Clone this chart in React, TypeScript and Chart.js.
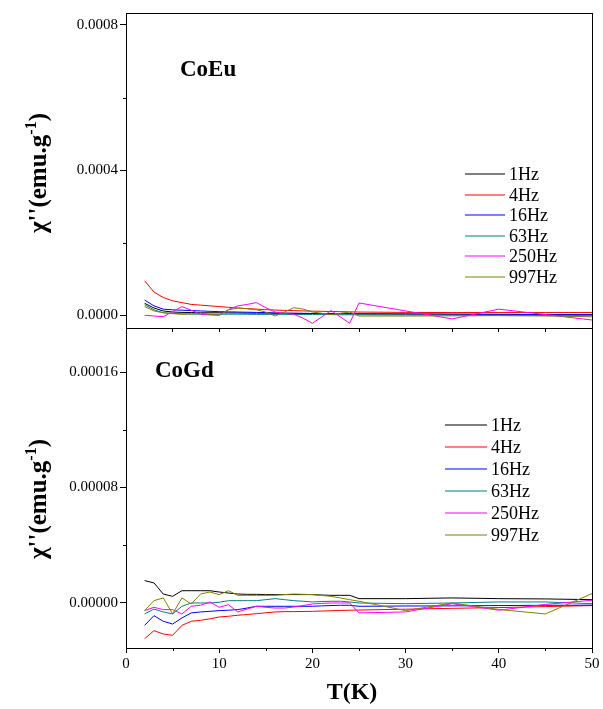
import React, { useEffect, useRef } from 'react';
import { Chart, registerables } from 'chart.js';

Chart.register(...registerables);

// Temperatures (K)
const T = [2, 3, 4, 5, 6, 7, 8, 9, 10, 11, 12, 13, 14, 15, 16, 17, 18, 19, 20, 21, 22, 23, 24, 25, 30, 35, 40, 45, 50];

const SERIES_LABELS = ['1Hz', '4Hz', '16Hz', '63Hz', '250Hz', '997Hz'];
const SERIES_COLORS = ['#000000', '#ff0000', '#0000ff', '#008080', '#ff00ff', '#808000'];

// values in units of 1e-6 emu/g
const MICRO = 1e-6;

// CoEu panel
const euHz1 = [33, 20, 12, 9, 8, 7.5, 7, 7, 7, 6.5, 6.5, 6, 6, 6, 5.5, 5.5, 5.5, 5, 5, 5, 4.5, 4.5, 4.5, 4, 3.5, 3, 2.5, 2, 1.5];
const euHz4 = [95, 64, 49, 40, 35, 30, 28, 26, 24, 22, 20, 18.5, 17, 15.5, 14.5, 13.5, 13, 12, 11.5, 11, 10.5, 10, 9.5, 9, 8, 7.5, 7.5, 7.5, 7.5];
const euHz16 = [42, 26, 17, 15, 14, 13, 12, 11, 10, 9.5, 9, 8.5, 8, 7.5, 6.5, 6, 5.5, 5.5, 5, 5, 4.5, 4.5, 4, 4, 3.5, 3, 2.5, 2, 2];
const euHz63 = [29, 15, 7, 5, 4, 3.5, 3, 3, 3, 3, 3, 3, 2.5, 2.5, 2.5, 2.5, 2, 2, 2, 2, 2, 1.5, 1.5, 1.5, 1, 0.5, 0, -0.5, -1];
const euHz250 = [0, -2, -3.7, 10, 24, 14, 3, 1, 0, 16, 26, 30, 35, 21, 9, 5, 3, -8, -22, -4.5, 13, -4.5, -22, 34, 12, -10, 17, 2, -13];
const euHz997 = [24, 12, 7, 4.6, 2.8, 3.7, 5.5, 2.8, 0, 15, 20, 18, 15, 9, -2, 9, 21, 17, 9, 5.5, 2, 5.5, 9, -2, -2, -1.5, -1, -2, -4];

// CoGd panel
const gdHz1 = [15.5, 13.9, 6.2, 4.6, 8.5, 8.5, 8.5, 8.5, 7.6, 6.9, 6.2, 6, 6, 5.8, 5.8, 5.8, 5.8, 5.8, 5.8, 5.5, 5.3, 5.3, 5.3, 3, 3, 3.5, 3, 2.8, 2.3];
const gdHz4 = [-24.7, -19.2, -21.5, -22.4, -15.5, -12.7, -12, -11, -9.7, -9.2, -8.5, -8, -7.4, -6.8, -6.2, -6, -6, -5.9, -5.8, -5.6, -5.4, -5.2, -5, -4.9, -4.3, -3.7, -3.2, -2.5, -1.8];
const gdHz16 = [-15.5, -8.8, -12.7, -14.6, -10.4, -6.9, -6.2, -5.8, -5.3, -5, -4.6, -3.5, -2.3, -2.3, -2.3, -2.3, -2.3, -2.3, -2.3, -2, -1.8, -1.6, -1.6, -2.3, -2.1, -2, -1.8, -1.6, -1.5];
const gdHz63 = [-7.6, -4.2, -6.2, -7.6, -2.3, 0, 0, 0, 0.5, 1.6, 1.6, 1.6, 1.6, 2.3, 3, 2.3, 1.6, 1.2, 0.7, 1, 1.2, 1.2, 0.7, 0, -0.5, 0, 0.7, 0.7, -0.5];
const gdHz250 = [-5.3, -3, -4.6, -4.6, -7.6, -2.3, -1.6, 0.7, -3, -1.2, -6.2, -4.2, -2.3, -3, -3.5, -3.5, -2.8, -1.8, -0.7, -0.3, 0, 0, 0, -6.9, -6.2, -0.5, -5, -1, 1.9];
const gdHz997 = [-5.3, 1.6, 3.5, -7.6, 3.5, -0.7, 6.2, 7.6, 5.8, 8.5, 5.3, 5.3, 5.3, 5.3, 5.3, 5.8, 6.2, 6, 5.8, 5.2, 4.6, 3.5, 2.3, 1.2, -5.3, 0, -4.5, -7.6, 6.5];

// ticks
const X_TICKS_TOP = [0, 5, 10, 15, 20, 25, 30, 35, 40, 45, 50];
const X_TICKS = [0, 10, 20, 30, 40, 50];
const X_LABELS = ['0', '10', '20', '30', '40', '50'];
const X_MINOR = [5, 15, 25, 35, 45];
const EU_Y_TICKS = [0, 0.0004, 0.0008];
const EU_Y_LABELS = ['0.0000', '0.0004', '0.0008'];
const EU_Y_MINOR = [0.0002, 0.0006];
const GD_Y_TICKS = [0, 0.00008, 0.00016];
const GD_Y_LABELS = ['0.00000', '0.00008', '0.00016'];
const GD_Y_MINOR = [0.00004, 0.00012];

const SERIF = '"Liberation Serif", "Times New Roman", serif';

type PanelCfg = {
  top: number;
  height: number;
  padTop: number;
  xAxisH: number;
  yMin: number;
  yMax: number;
  yTicks: number[];
  yLabels: string[];
  yMinor: number[];
  xTicks: number[];
  xLabels: string[] | null;
  xMinor: number[];
  series: number[][];
  name: string;
  nameX: number;
  nameY: number;
  legendX: number;
  legendY: number;
  legendStep: number;
  legendLen: number;
  titleY: number;
  xTitle: boolean;
};

const PANELS: PanelCfg[] = [
  {
    top: 0, height: 335, padTop: 13, xAxisH: 7,
    yMin: -0.000035, yMax: 0.000833,
    yTicks: EU_Y_TICKS, yLabels: EU_Y_LABELS, yMinor: EU_Y_MINOR,
    xTicks: X_TICKS_TOP, xLabels: null, xMinor: [],
    series: [euHz1, euHz4, euHz16, euHz63, euHz250, euHz997],
    name: 'CoEu', nameX: 180, nameY: 76,
    legendX: 465, legendY: 174, legendStep: 20.6, legendLen: 40,
    titleY: 173, xTitle: false,
  },
  {
    top: 326, height: 383, padTop: 2, xAxisH: 61,
    yMin: -0.0000312, yMax: 0.0001905,
    yTicks: GD_Y_TICKS, yLabels: GD_Y_LABELS, yMinor: GD_Y_MINOR,
    xTicks: X_TICKS, xLabels: X_LABELS, xMinor: X_MINOR,
    series: [gdHz1, gdHz4, gdHz16, gdHz63, gdHz250, gdHz997],
    name: 'CoGd', nameX: 155, nameY: 377,
    legendX: 445, legendY: 425, legendStep: 21.9, legendLen: 42,
    titleY: 499, xTitle: true,
  },
];

function makeDecor(cfg: PanelCfg) {
  return {
    id: 'decor_' + cfg.name,
    afterDraw(chart: any) {
      const { ctx, chartArea: a, scales } = chart;
      const off = cfg.top;
      ctx.save();
      // frame
      ctx.strokeStyle = '#000';
      ctx.lineWidth = 1;
      ctx.strokeRect(Math.round(a.left) + 0.5, Math.round(a.top) + 0.5, Math.round(a.right - a.left), Math.round(a.bottom - a.top));
      // minor ticks
      ctx.beginPath();
      cfg.yMinor.forEach((v) => {
        const y = Math.round(scales.y.getPixelForValue(v)) + 0.5;
        ctx.moveTo(a.left - 3, y);
        ctx.lineTo(a.left, y);
      });
      cfg.xMinor.forEach((v) => {
        const x = Math.round(scales.x.getPixelForValue(v)) + 0.5;
        ctx.moveTo(x, a.bottom);
        ctx.lineTo(x, a.bottom + 3);
      });
      ctx.stroke();
      // legend
      ctx.font = `18px ${SERIF}`;
      ctx.textBaseline = 'alphabetic';
      ctx.textAlign = 'left';
      SERIES_LABELS.forEach((lab, i) => {
        const y = Math.round(cfg.legendY + i * cfg.legendStep - off);
        ctx.strokeStyle = SERIES_COLORS[i];
        ctx.lineWidth = 1.2;
        ctx.beginPath();
        ctx.moveTo(cfg.legendX, y);
        ctx.lineTo(cfg.legendX + cfg.legendLen, y);
        ctx.stroke();
        ctx.fillStyle = '#000';
        ctx.fillText(lab, cfg.legendX + cfg.legendLen + 4, y + 6);
      });
      // panel name
      ctx.font = `bold 23px ${SERIF}`;
      ctx.fillStyle = '#000';
      ctx.fillText(cfg.name, cfg.nameX, cfg.nameY - off);
      // y title with superscript
      const mainFont = `bold 25px ${SERIF}`;
      const supFont = `bold 16px ${SERIF}`;
      const p1 = "\u03c7''(emu.g";
      const p2 = '-1';
      const p3 = ')';
      ctx.font = mainFont;
      const w1 = ctx.measureText(p1).width;
      const w3 = ctx.measureText(p3).width;
      ctx.font = supFont;
      const w2 = ctx.measureText(p2).width;
      const total = w1 + w2 + w3;
      ctx.translate(46, cfg.titleY - off);
      ctx.rotate(-Math.PI / 2);
      let x0 = -total / 2;
      ctx.font = mainFont;
      ctx.fillText(p1, x0, 0);
      x0 += w1;
      ctx.font = supFont;
      ctx.fillText(p2, x0, -10);
      x0 += w2;
      ctx.font = mainFont;
      ctx.fillText(p3, x0, 0);
      ctx.setTransform(1, 0, 0, 1, 0, 0);
      // x title
      if (cfg.xTitle) {
        ctx.font = `bold 24px ${SERIF}`;
        ctx.textAlign = 'center';
        ctx.textBaseline = 'middle';
        ctx.fillText('T(K)', 352, 693 - off);
      }
      ctx.restore();
    },
  };
}

function Panel({ cfg }: { cfg: PanelCfg }) {
  const ref = useRef<HTMLCanvasElement>(null);
  useEffect(() => {
    const chart = new Chart(ref.current as HTMLCanvasElement, {
      type: 'line',
      data: {
        datasets: cfg.series.map((s, i) => ({
          label: SERIES_LABELS[i],
          data: T.map((t, j) => ({ x: t, y: s[j] * MICRO })),
          borderColor: SERIES_COLORS[i],
          backgroundColor: SERIES_COLORS[i],
          borderWidth: 1,
          pointRadius: 0,
          fill: false,
          tension: 0,
          order: 5 - i,
        })),
      },
      options: {
        responsive: false,
        animation: false,
        layout: { padding: { top: cfg.padTop, right: 11, left: 0, bottom: 0 } },
        plugins: { legend: { display: false }, tooltip: { enabled: false } },
        scales: {
          x: {
            type: 'linear',
            min: 0,
            max: 50,
            afterBuildTicks: (s: any) => {
              s.ticks = cfg.xTicks.map((v) => ({ value: v }));
            },
            afterFit: (s: any) => {
              s.height = cfg.xAxisH;
            },
            grid: { drawOnChartArea: false, drawTicks: true, tickLength: cfg.xLabels ? 5 : 4, color: '#000' },
            border: { display: false },
            ticks: {
              display: !!cfg.xLabels,
              autoSkip: false,
              maxRotation: 0,
              padding: 2,
              color: '#000',
              font: { family: SERIF, size: 15 },
              callback: (_v: any, i: number) => (cfg.xLabels ? cfg.xLabels[i] : ''),
            },
          },
          y: {
            type: 'linear',
            min: cfg.yMin,
            max: cfg.yMax,
            afterBuildTicks: (s: any) => {
              s.ticks = cfg.yTicks.map((v) => ({ value: v }));
            },
            afterFit: (s: any) => {
              s.width = 126;
            },
            grid: { drawOnChartArea: false, drawTicks: true, tickLength: 6, color: '#000' },
            border: { display: false },
            ticks: {
              autoSkip: false,
              padding: 2,
              color: '#000',
              font: { family: SERIF, size: 15, lineHeight: 0.01 },
              callback: (_v: any, i: number) => cfg.yLabels[i],
            },
          },
        },
      },
      plugins: [makeDecor(cfg)],
    } as any);
    return () => chart.destroy();
  }, []);
  return (
    <canvas
      ref={ref}
      width={603}
      height={cfg.height}
      style={{ position: 'absolute', left: 0, top: cfg.top, width: 603, height: cfg.height }}
    />
  );
}

export default function App() {
  return (
    <div style={{ position: 'absolute', left: 0, top: 0, width: 603, height: 709, background: '#fff' }}>
      {PANELS.map((p) => (
        <Panel key={p.name} cfg={p} />
      ))}
    </div>
  );
}
